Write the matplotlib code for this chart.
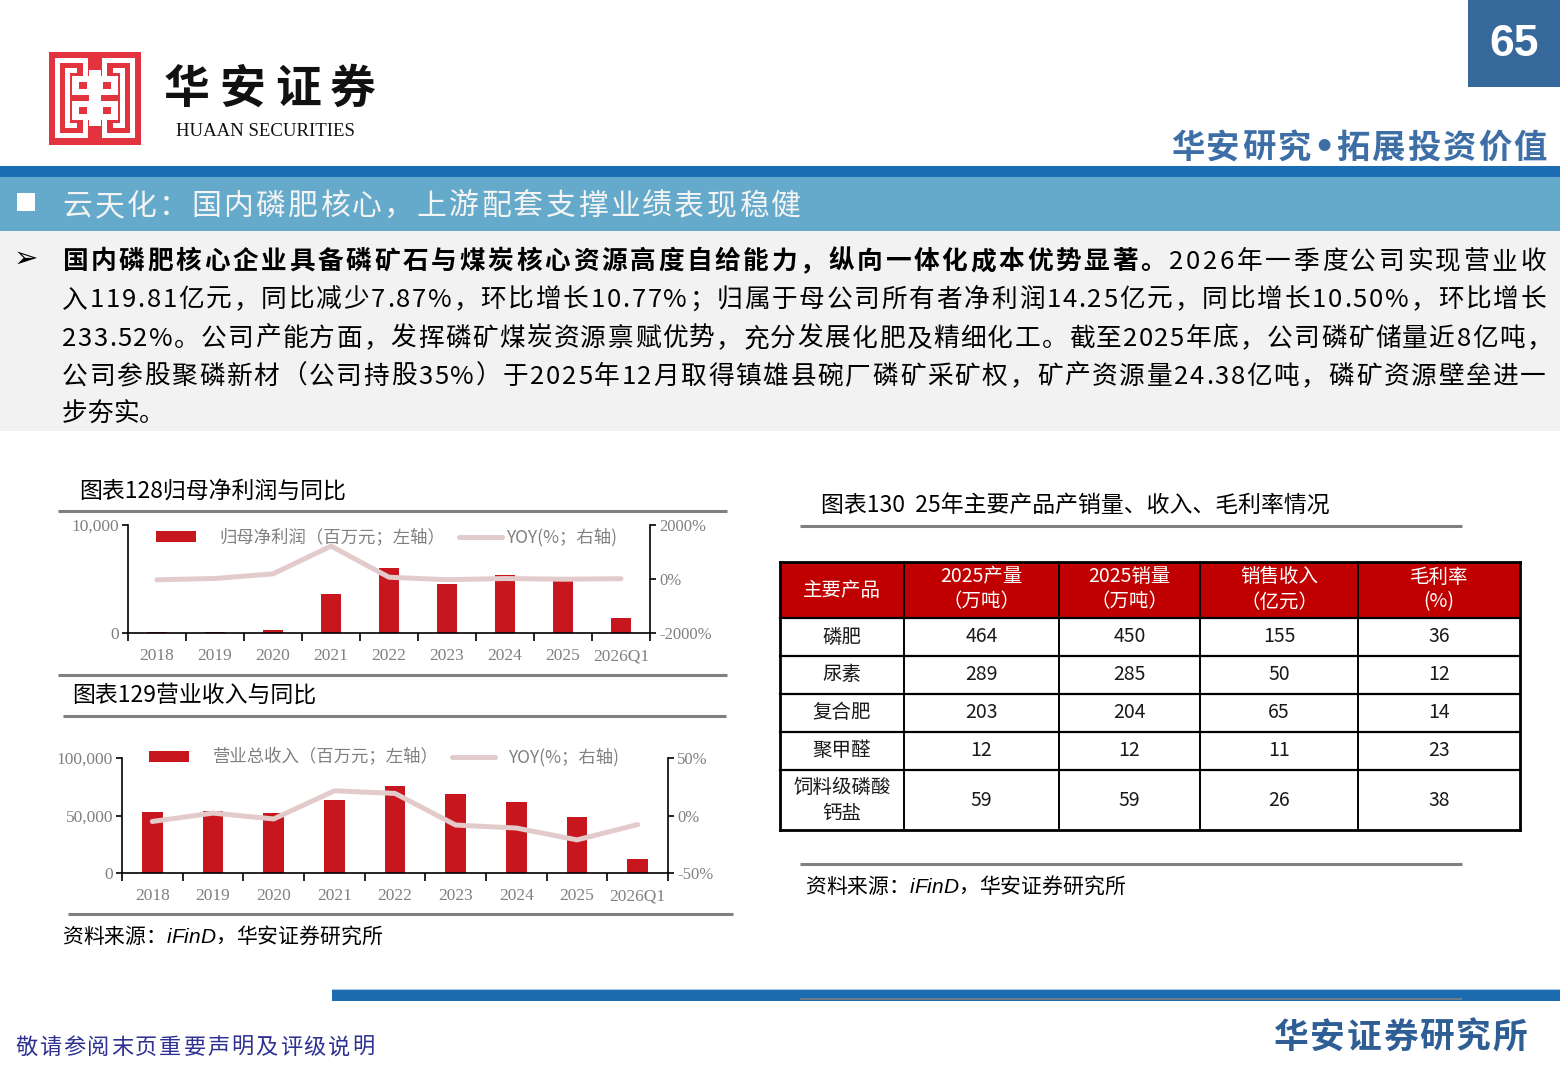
import numpy as np
import matplotlib
matplotlib.use('Agg')
import matplotlib.pyplot as plt
from matplotlib.patches import Rectangle
from matplotlib.font_manager import FontProperties

CJK = ['Noto Sans CJK SC', 'DejaVu Sans']
plt.rcParams['font.family'] = CJK

# ---------------- data ----------------
years = ['2018', '2019', '2020', '2021', '2022', '2023', '2024', '2025', '2026Q1']
net_profit = [80, 95, 276, 3638, 6021, 4522, 5333, 4900, 1425]          # 百万元
net_profit_yoy = [-30, 20, 190, 1218, 65, -25, 18, -8, 11]              # %
revenue = [52683, 53800, 52006, 63179, 75314, 69060, 61537, 48500, 11981]  # 百万元
revenue_yoy = [-5.2, 2.1, -3.0, 21.5, 19.2, -8.3, -10.9, -21.2, -7.87]     # %

table_cols = ['主要产品', '2025产量', '2025销量', '销售收入', '毛利率']
table_units = ['', '（万吨）', '（万吨）', '（亿元）', '(%)']
products = ['磷肥', '尿素', '复合肥', '聚甲醛', '饲料级磷酸\n钙盐']
output_2025 = [464, 289, 203, 12, 59]
sales_2025 = [450, 285, 204, 12, 59]
income_2025 = [155, 50, 65, 11, 26]
gross_margin = [36, 12, 14, 23, 38]

section_title = '云天化：国内磷肥核心，上游配套支撑业绩表现稳健'
body_bold = '国内磷肥核心企业具备磷矿石与煤炭核心资源高度自给能力，纵向一体化成本优势显著。'
body_lines = [
    '2026年一季度公司实现营业收',
    '入119.81亿元，同比减少7.87%，环比增长10.77%；归属于母公司所有者净利润14.25亿元，同比增长10.50%，环比增长',
    '233.52%。公司产能方面，发挥磷矿煤炭资源禀赋优势，充分发展化肥及精细化工。截至2025年底，公司磷矿储量近8亿吨，',
    '公司参股聚磷新材（公司持股35%）于2025年12月取得镇雄县碗厂磷矿采矿权，矿产资源量24.38亿吨，磷矿资源壁垒进一',
    '步夯实。',
]

BAR_RED = '#C8161E'
YOY_PINK = '#E3CBCB'
GRAY_TXT = '#808080'
RULE = '#808080'

W, H = 1560, 1080
fig = plt.figure(figsize=(W / 100, H / 100), dpi=100)
ov = fig.add_axes([0, 0, 1, 1], zorder=10)
ov.set_xlim(0, W)
ov.set_ylim(H, 0)
ov.axis('off')
renderer = fig.canvas.get_renderer()


def fp(size, weight='normal', family=CJK, style='normal'):
    return FontProperties(family=family, size=size, weight=weight, style=style)


_adv = {}


def adv(c, prop, br):
    key = (c, prop.get_size_in_points(), str(prop.get_weight()), tuple(prop.get_family()), prop.get_style())
    if key not in _adv:
        w1 = renderer.get_text_width_height_descent(br + c + br, prop, False)[0]
        w0 = renderer.get_text_width_height_descent(br + br, prop, False)[0]
        _adv[key] = w1 - w0
    return _adv[key]


def runs_text(runs, x0, y, x1=None):
    items = []
    for text, prop, color, br in runs:
        for c in text:
            items.append((c, prop, color, adv(c, prop, br)))
    total = sum(i[3] for i in items)
    extra = 0.0
    if x1 is not None and len(items) > 1:
        extra = (x1 - x0 - total) / (len(items) - 1)
    x = x0
    for c, prop, color, a in items:
        if c != ' ':
            ov.text(x, y, c, fontproperties=prop, color=color, ha='left', va='baseline')
        x += a + extra


def rect(x, y, w, h, color, **kw):
    ov.add_patch(Rectangle((x, y), w, h, facecolor=color, edgecolor='none', **kw))


def hline(x0, x1, y, color=RULE, lw=2.2):
    ov.plot([x0, x1], [y, y], color=color, lw=lw, solid_capstyle='butt')


# ---------------- header ----------------
rect(1468, 0, 92, 87, '#36689B')
ov.text(1514, 45, '65', color='white', fontsize=32, fontweight='bold',
        family='Liberation Sans', ha='center', va='center')

# logo
rect(49, 52, 92, 93, '#E2333F')
for (x, y, w, h) in [
        (55, 58, 5, 80), (55, 58, 33, 5), (55, 133, 33, 5),
        (130, 58, 5, 80), (102, 58, 33, 5), (102, 133, 33, 5),
        (83, 58, 5, 18), (102, 58, 5, 18), (83, 120, 5, 18), (102, 120, 5, 18),
        (65, 68, 5, 60), (65, 68, 12, 5), (65, 123, 12, 5),
        (120, 68, 5, 60), (113, 68, 12, 5), (113, 123, 12, 5),
        (72, 76, 46, 19), (72, 101, 46, 19), (89, 70, 12, 56)]:
    rect(x, y, w, h, 'white')
for (x, y) in [(79, 82), (103, 82), (79, 107), (103, 107)]:
    rect(x, y, 8, 7, '#E2333F')

runs_text([('华安证券', fp(33, 'bold'), '#111111', '国')], 164, 103, 376)
ov.text(176, 132, 'HUAAN SECURITIES', family='Liberation Serif', fontsize=13.5,
        ha='left', va='center', color='#111111')

hdr = fp(24, 'bold')
runs_text([('华安研究', hdr, '#3D6FA6', '国'),
           ('•', fp(24, 'bold', family=['DejaVu Sans']), '#3D6FA6', 'H'),
           ('拓展投资价值', hdr, '#3D6FA6', '国')], 1171, 158, 1547)

# section band
rect(0, 166, W, 11, '#1C6EB4')
rect(0, 177, W, 54, '#65AACA')
rect(17, 193, 18, 18, 'white')
runs_text([(section_title, fp(21.5), '#F4F4F4', '国')], 62, 215, 801)

# body text box
rect(0, 231, W, 200, '#F2F2F2')
ov.text(26, 259, '➢', family='DejaVu Sans', fontsize=21, ha='center', va='center', color='black')
bsz = 18.5
base = [269, 307, 346, 384, 421]
runs_text([(body_bold, fp(bsz, 'bold'), 'black', '国'),
           (body_lines[0], fp(bsz), 'black', '国')], 62, base[0], 1546)
runs_text([(body_lines[1], fp(bsz), 'black', '国')], 62, base[1], 1546)
runs_text([(body_lines[2], fp(bsz), 'black', '国')], 62, base[2], 1552)
runs_text([(body_lines[3], fp(bsz), 'black', '国')], 62, base[3], 1546)
runs_text([(body_lines[4], fp(bsz), 'black', '国')], 62, base[4])


# ---------------- charts ----------------
def bar_line_chart(box, cats, bars, line, ylim_l, yt_l, ytl_l, ylim_r, yt_r, ytl_r, bw):
    l, t, r, b = box
    ax = fig.add_axes([l / W, 1 - b / H, (r - l) / W, (b - t) / H])
    x = np.arange(len(cats))
    ax.bar(x, bars, width=bw, color=BAR_RED, zorder=2)
    ax.set_xlim(-0.5, len(cats) - 0.5)
    ax.set_ylim(*ylim_l)
    ax.set_yticks(yt_l)
    ax.set_yticklabels(ytl_l, fontfamily='Liberation Serif')
    ax.set_xticks(np.arange(-0.5, len(cats), 1.0))
    ax.set_xticklabels([])
    ax.set_xticks(x, minor=True)
    ax.set_xticklabels(cats, minor=True, fontfamily='Liberation Serif')
    ax.tick_params(axis='x', which='major', direction='out', length=6, width=1.2, color='black')
    ax.tick_params(axis='x', which='minor', length=0, pad=11, labelsize=12.5, labelcolor=GRAY_TXT)
    ax.tick_params(axis='y', direction='out', length=4.5, width=1.2, pad=2, labelsize=12.5,
                   labelcolor=GRAY_TXT, color='black')
    for s in ['top', 'right']:
        ax.spines[s].set_visible(False)
    for s in ['left', 'bottom']:
        ax.spines[s].set_linewidth(1.2)
    ax.patch.set_alpha(0)
    ax2 = ax.twinx()
    ax2.plot(x, line, color=YOY_PINK, lw=3.6, solid_joinstyle='round', solid_capstyle='round', zorder=3)
    ax2.set_ylim(*ylim_r)
    ax2.set_yticks(yt_r)
    ax2.set_yticklabels(ytl_r, fontfamily='Liberation Serif')
    for s in ['top', 'left', 'bottom']:
        ax2.spines[s].set_visible(False)
    ax2.spines['right'].set_linewidth(1.2)
    ax2.tick_params(axis='y', direction='out', length=4.5, width=1.2, pad=2, labelsize=12,
                    labelcolor=GRAY_TXT, color='black')
    return ax, ax2


# chart 128
ov.text(79, 491, '图表128归母净利润与同比', fontsize=16.5, ha='left', va='center', color='black')
hline(58, 727, 511)
bar_line_chart((128, 525, 650, 633), years, net_profit, net_profit_yoy,
               (0, 10000), [0, 10000], ['0', '10,000'],
               (-2000, 2000), [-2000, 0, 2000], ['-2000%', '0%', '2000%'], 0.36)
rect(156, 531, 40, 11, BAR_RED)
ov.text(219, 537, '归母净利润（百万元；左轴）', fontsize=12.5, color=GRAY_TXT, ha='left', va='center')
ov.plot([459, 502], [537, 537], color=YOY_PINK, lw=3.6, solid_capstyle='round')
ov.text(506, 537, 'YOY(%；右轴)', fontsize=12.5, color=GRAY_TXT, ha='left', va='center')
hline(58, 727, 675)

# chart 129
ov.text(72, 695, '图表129营业收入与同比', fontsize=16.5, ha='left', va='center', color='black')
hline(63, 726, 716)
bar_line_chart((122, 758, 668, 873), years, revenue, revenue_yoy,
               (0, 100000), [0, 50000, 100000], ['0', '50,000', '100,000'],
               (-50, 50), [-50, 0, 50], ['-50%', '0%', '50%'], 0.34)
rect(149, 751, 40, 11, BAR_RED)
ov.text(213, 757, '营业总收入（百万元；左轴）', fontsize=12.5, color=GRAY_TXT, ha='left', va='center')
ov.plot([452, 495], [757, 757], color=YOY_PINK, lw=3.6, solid_capstyle='round')
ov.text(508, 757, 'YOY(%；右轴)', fontsize=12.5, color=GRAY_TXT, ha='left', va='center')
hline(68, 733, 914)

src_runs = [('资料来源：', fp(15), 'black', '国'),
            ('iFinD', fp(15, family=['Liberation Sans'], style='italic'), 'black', 'H'),
            ('，华安证券研究所', fp(15), 'black', '国')]
runs_text(src_runs, 62, 943)

# ---------------- table ----------------
ov.text(821, 506, '图表130  25年主要产品产销量、收入、毛利率情况', fontsize=16.5,
        ha='left', va='center', color='black')
hline(800, 1462, 526)

X = [780, 904, 1059, 1200, 1358, 1520]
Y = [562, 618, 656, 694, 732, 770, 830]
rect(X[0], Y[0], X[-1] - X[0], Y[1] - Y[0], '#C00000')
for i in range(5):
    cx = (X[i] + X[i + 1]) / 2
    if table_units[i]:
        ov.text(cx, 577, table_cols[i], fontsize=14, color='white', ha='center', va='center')
        ov.text(cx, 602, table_units[i], fontsize=14, color='white', ha='center', va='center')
    else:
        ov.text(cx, 590, table_cols[i], fontsize=14, color='white', ha='center', va='center')

cols = [products, output_2025, sales_2025, income_2025, gross_margin]
for r in range(len(products)):
    cy = (Y[r + 1] + Y[r + 2]) / 2
    for c in range(5):
        cx = (X[c] + X[c + 1]) / 2
        val = cols[c][r]
        if c == 0 and '\n' in str(val):
            a, b2 = str(val).split('\n')
            ov.text(cx, cy - 13, a, fontsize=14, color='#1A1A1A', ha='center', va='center')
            ov.text(cx, cy + 13, b2, fontsize=14, color='#1A1A1A', ha='center', va='center')
        else:
            ov.text(cx, cy, str(val), fontsize=14, color='#1A1A1A', ha='center', va='center')

for y in Y:
    lw = 2.0 if y in (Y[0], Y[-1]) else 1.6
    ov.plot([X[0], X[-1]], [y, y], color='black', lw=lw, solid_capstyle='projecting')
for x in X:
    lw = 2.0 if x in (X[0], X[-1]) else 1.4
    ov.plot([x, x], [Y[0], Y[-1]], color='black', lw=lw, solid_capstyle='projecting')

hline(800, 1462, 864)
runs_text(src_runs, 805, 893)

# ---------------- footer ----------------
rect(332, 989, W - 332, 12, '#1A6BB0')
ov.plot([332, W], [988.5, 988.5], color='#A9C8E4', lw=0.8)
hline(800, 1462, 999, color='#7F7F7F', lw=1.2)
runs_text([('敬请参阅末页重要声明及评级说明', fp(16), '#2E3192', '国')], 15, 1054, 374)
runs_text([('华安证券研究所', fp(25, 'bold'), '#2F5E95', '国')], 1274, 1048, 1527)

fig.savefig('out.png', dpi=100)
